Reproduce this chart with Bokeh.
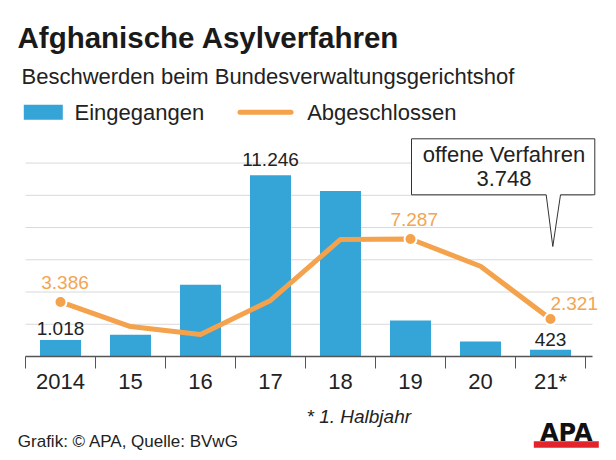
from bokeh.plotting import figure
from bokeh.models import Range1d, FixedTicker
from bokeh.layouts import column
from bokeh.core.properties import value
from bokeh.embed import file_html
from bokeh.resources import INLINE

# ---- data ----
years = ["2014", "15", "16", "17", "18", "19", "20", "21*"]
eingegangen = [1018, 1350, 4450, 11246, 10270, 2230, 930, 423]
abgeschlossen = [3386, 1860, 1365, 3475, 7260, 7287, 5600, 2321]
labelled_bars = [0, 3, 7]
labelled_points = [0, 5, 7]
offene_verfahren = 3748
grid_values = [2000, 4000, 6000, 8000, 10000, 12000]


def de(n):
    return f"{n:,}".replace(",", ".")


BLUE = "#35a4d6"
ORANGE = "#f4a24c"
ORANGE_TXT = "#f2a552"
DARK = "#222222"
AXIS = "#555555"
GRID = "#d9d9d9"
FONT = value("Liberation Sans")
BL_SHIFT = 0.32  # empirical baseline correction (em)

# pixel geometry helpers (layout only)
PX_X = 70.0
PX_Y = 0.01612
BASE = 356
MAIN_H = 400
x0 = -0.5 - 25 / PX_X
X_LO, X_HI = -0.5, 7.6


def X(px):
    return x0 + px / PX_X


def Y(py):
    return (BASE - py) / PX_Y


def YB(py, fs):
    return Y(py - BL_SHIFT * fs)


xs = list(range(len(years)))

p = figure(width=616, height=MAIN_H,
           x_range=Range1d(X(0), X(616)), y_range=Range1d(0, Y(0)),
           min_border_left=0, min_border_right=0, min_border_top=0,
           min_border_bottom=MAIN_H - BASE,
           y_axis_location=None,
           output_backend="svg", toolbar_location=None)
p.outline_line_color = None
p.background_fill_color = "white"
p.border_fill_color = "white"

# grid lines (bounded to the axis extent)
p.xgrid.grid_line_color = None
p.ygrid.grid_line_color = None
p.segment(x0=[X_LO] * len(grid_values), x1=[X_HI] * len(grid_values),
          y0=grid_values, y1=grid_values, line_color=GRID, line_width=1)

# axis
ax = p.xaxis[0]
ax.ticker = FixedTicker(ticks=xs, minor_ticks=[i - 0.5 for i in range(len(years) + 1)])
ax.major_label_overrides = {i: years[i] for i in xs}
ax.major_tick_line_color = None
ax.major_tick_out = 0
ax.major_tick_in = 0
ax.minor_tick_out = 12
ax.minor_tick_in = 0
ax.minor_tick_line_color = AXIS
ax.minor_tick_line_width = 1
ax.axis_line_color = AXIS
ax.axis_line_width = 1.5
ax.bounds = (X_LO, X_HI)
ax.major_label_standoff = 0
ax.major_label_text_font = "Liberation Sans"
ax.major_label_text_font_size = "22px"
ax.major_label_text_color = DARK

# bars and line
p.vbar(x=xs, top=eingegangen, width=0.586, fill_color=BLUE, line_color=None)
p.line(x=xs, y=abgeschlossen, line_width=5, line_color=ORANGE, line_join="round")
p.scatter(x=[xs[i] for i in labelled_points], y=[abgeschlossen[i] for i in labelled_points],
          size=12, fill_color=ORANGE, line_color="white", line_width=2)

# value labels (baseline offsets in px above the mark)
bar_dy = {0: 6, 3: 9.5, 7: 4.5}
for i in labelled_bars:
    p.text(x=[xs[i]], y=[eingegangen[i] + (bar_dy[i] + BL_SHIFT * 19) / PX_Y],
           text=[de(eingegangen[i])],
           text_font=FONT, text_font_size="19px", text_color=DARK,
           text_align="center", text_baseline="alphabetic")

pt_off = {0: (4.5, 13), 5: (3.7, 13), 7: (23.7, 10)}
for i in labelled_points:
    dx, dy = pt_off[i]
    p.text(x=[xs[i] + dx / PX_X], y=[abgeschlossen[i] + (dy + BL_SHIFT * 19) / PX_Y],
           text=[de(abgeschlossen[i])],
           text_font=FONT, text_font_size="19px", text_color=ORANGE_TXT,
           text_align="center", text_baseline="alphabetic")

# callout
cx = [411, 594.3, 594.3, 560, 552.3, 545.7, 411]
cy = [138.3, 138.3, 194.3, 194.3, 246, 194.3, 194.3]
p.patch(x=[X(v) for v in cx], y=[Y(v) for v in cy], fill_color="white",
        line_color="#333333", line_width=1)
p.text(x=[X(503.5), X(503.5)], y=[YB(161, 22), YB(185, 22)],
       text=["offene Verfahren", de(offene_verfahren)],
       text_font=FONT, text_font_size="22px", text_color=DARK,
       text_align="center", text_baseline="alphabetic")

# title, subtitle
p.text(x=[X(17)], y=[YB(46, 29.5)], text=["Afghanische Asylverfahren"], text_font=FONT,
       text_font_size="29.5px", text_font_style="bold", text_color="#1a1a1a",
       text_baseline="alphabetic", text_align="left")
p.text(x=[X(21)], y=[YB(82.7, 22)], text=["Beschwerden beim Bundesverwaltungsgerichtshof"],
       text_font=FONT, text_font_size="22px", text_color=DARK,
       text_baseline="alphabetic", text_align="left")

# legend
p.quad(left=[X(23.3)], right=[X(62.3)], top=[Y(104.3)], bottom=[Y(119.3)],
       fill_color=BLUE, line_color=None)
p.line(x=[X(239.5), X(290.5)], y=[Y(111.7), Y(111.7)], line_width=5,
       line_color=ORANGE, line_cap="round")
p.text(x=[X(74), X(306.7)], y=[YB(119.3, 22), YB(119.3, 22)],
       text=["Eingegangen", "Abgeschlossen"],
       text_font=FONT, text_font_size="22px", text_color=DARK,
       text_baseline="alphabetic", text_align="left")

# ---- footer figure: data coords equal page pixels ----
f = figure(width=616, height=460 - MAIN_H,
           x_range=Range1d(0, 616), y_range=Range1d(460, MAIN_H),
           min_border=0, x_axis_location=None, y_axis_location=None,
           output_backend="svg", toolbar_location=None)
f.outline_line_color = None
f.xgrid.visible = False
f.ygrid.visible = False
f.background_fill_color = "white"
f.border_fill_color = "white"

f.text(x=[306], y=[422.3 - BL_SHIFT * 19], text=["* 1. Halbjahr"], text_font=FONT,
       text_font_size="19px", text_font_style="italic", text_color=DARK,
       text_baseline="alphabetic", text_align="left")
f.text(x=[17.3], y=[446.7 - BL_SHIFT * 17], text=["Grafik: © APA, Quelle: BVwG"],
       text_font=FONT, text_font_size="17px", text_color=DARK,
       text_baseline="alphabetic", text_align="left")
f.quad(left=[533.3], right=[598.3], top=[440.8], bottom=[447.3],
       fill_color="#e3232c", line_color=None)
f.text(x=[565.8], y=[440 - BL_SHIFT * 24], text=["APA"], text_font=value("DejaVu Sans"),
       text_font_size="24px", text_font_style="bold", text_color="#111111",
       text_baseline="alphabetic", text_align="center")

layout = column(p, f, spacing=0)
open("out.html", "w").write(file_html(layout, INLINE))
